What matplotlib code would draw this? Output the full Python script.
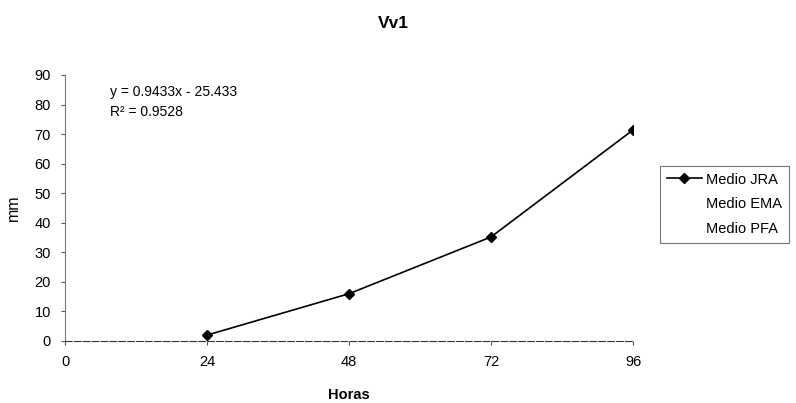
import matplotlib.pyplot as plt
from matplotlib.lines import Line2D

# data
horas = [24, 48, 72, 96]
medio_jra = [2.0, 16.0, 35.2, 71.4]
series_names = ["Medio JRA", "Medio EMA", "Medio PFA"]
x_ticks = [0, 24, 48, 72, 96]
y_ticks = [0, 10, 20, 30, 40, 50, 60, 70, 80, 90]

plt.rcParams['font.family'] = ['Liberation Sans', 'DejaVu Sans']

W, H = 796, 403
fig = plt.figure(figsize=(W / 100, H / 100), dpi=100)
ax = fig.add_axes([65 / W, 1 - 341 / H, (633 - 65) / W, (341 - 75) / H])

ax.plot(horas, medio_jra, color='black', linewidth=1.2, marker='D', markersize=5)

ax.set_xlim(0, 96)
ax.set_ylim(0, 90)
ax.set_xticks(x_ticks)
ax.set_yticks(y_ticks)
ax.tick_params(axis='both', labelsize=10.5, length=3, color='#555555', pad=7)
for side in ['top', 'right']:
    ax.spines[side].set_visible(False)
ax.spines['left'].set_color('#777777')
ax.spines['left'].set_linewidth(0.8)
ax.spines['bottom'].set_color('#333333')
ax.spines['bottom'].set_linewidth(0.8)
ax.spines['bottom'].set_linestyle((0, (6, 2)))

ax.set_xlabel("Horas", fontsize=10.5, fontweight='bold', labelpad=14)
ax.set_ylabel("mm", fontsize=11.5, labelpad=10)
fig.text(393 / W, 1 - 24 / H, "Vv1", fontsize=12.5, fontweight='bold',
         ha='center', va='center')

# trend line label
fig.text(110 / W, 1 - 92 / H, "y = 0.9433x - 25.433", fontsize=10, va='center')
fig.text(110 / W, 1 - 112 / H, "R² = 0.9528", fontsize=10, va='center')

handles = [
    Line2D([], [], color='black', linewidth=1.2, marker='D', markersize=5),
    Line2D([], [], color='white', linewidth=1.2),
    Line2D([], [], color='white', linewidth=1.2),
]
leg = fig.legend(handles, series_names, loc='upper left',
                 bbox_to_anchor=(660 / W, 1 - 166 / H), fontsize=10.5,
                 frameon=True, fancybox=False, borderpad=0.45,
                 handlelength=2.4, labelspacing=0.75, handletextpad=0.3,
                 borderaxespad=0)
leg.get_frame().set_edgecolor('#555555')
leg.get_frame().set_linewidth(0.8)

fig.savefig("out.png", dpi=100)
